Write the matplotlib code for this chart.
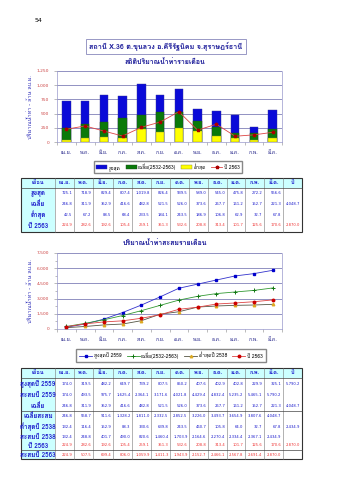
import matplotlib
matplotlib.use('Agg')
import matplotlib.pyplot as plt
import numpy as np
from matplotlib import font_manager
from matplotlib.ft2font import FT2Font
from matplotlib.patches import Rectangle


def find_thai_font():
    for f in font_manager.fontManager.ttflist:
        try:
            if 0x0E01 in FT2Font(f.fname).get_charmap():
                return f.name
        except Exception:
            pass
    return 'DejaVu Sans'


thai = find_thai_font()
plt.rcParams['font.family'] = [thai, 'DejaVu Sans']

months = ['เม.ย.', 'พ.ค.', 'มิ.ย.', 'ก.ค.', 'ส.ค.', 'ก.ย.', 'ต.ค.', 'พ.ย.', 'ธ.ค.', 'ม.ค.', 'ก.พ.', 'มี.ค.']

# monthly statistics (million m3)
max_flow = [725.1, 718.9, 829.4, 807.4, 1019.8, 826.4, 939.5, 589.0, 545.0, 475.8, 272.2, 556.6]
mean_flow = [246.8, 311.9, 352.9, 416.6, 482.8, 521.5, 526.0, 373.6, 267.7, 161.2, 152.7, 221.3]
min_flow = [42.5, 67.2, 88.5, 68.4, 233.5, 184.1, 243.5, 186.9, 106.8, 62.9, 32.7, 67.8]
y2563 = [224.9, 282.6, 192.6, 105.4, 259.1, 351.3, 532.6, 208.8, 313.4, 101.7, 125.6, 170.6]

max2559 = [174.0, 319.5, 482.2, 649.7, 739.2, 807.5, 850.2, 407.6, 402.9, 402.8, 229.9, 325.1]
min2538 = [132.4, 116.4, 152.9, 88.3, 330.6, 639.8, 243.5, 460.7, 105.8, 64.0, 32.7, 67.8]

# cumulative rows
cum_max2559 = [174.0, 493.5, 975.7, 1625.4, 2364.1, 3171.6, 4021.8, 4429.4, 4832.4, 5235.2, 5465.1, 5790.2]
cum_mean = [246.8, 558.7, 911.6, 1328.2, 1811.0, 2332.5, 2852.5, 3226.0, 3493.7, 3654.9, 3807.6, 4048.7]
cum_min2538 = [132.4, 248.8, 401.7, 490.0, 820.6, 1460.4, 1703.9, 2164.6, 2270.4, 2334.4, 2367.1, 2434.9]
cum_2563 = [224.9, 507.5, 699.4, 806.0, 1059.9, 1411.3, 1943.9, 2152.7, 2466.1, 2567.8, 2691.4, 2870.0]

total_mean = 4048.7
total_2563 = 2870.0
total_max2559 = 5790.2
total_min2538 = 2434.9

W, H = 339, 480
BLUE_TXT = '#1a1acc'
RED_TXT = '#ee3333'
CYAN = '#ccffff'

fig = plt.figure(figsize=(W / 100, H / 100), dpi=100)
fig.patch.set_facecolor('white')


def fax(x0, y0, x1, y1):
    return fig.add_axes([x0 / W, 1 - y1 / H, (x1 - x0) / W, (y1 - y0) / H])


x = np.arange(len(months))


def style_axis(ax, ymax, step):
    ax.set_xlim(-0.5, len(months) - 0.5)
    ax.set_ylim(0, ymax)
    ticks = np.arange(0, ymax + 1, step)
    ax.set_yticks(ticks)
    ax.set_yticklabels([f'{t:,.0f}' for t in ticks], fontsize=3.2, color='#cc4444',
                       family='DejaVu Sans')
    ax.set_xticks(x)
    ax.set_xticklabels(months, fontsize=3.8, color='#222288')
    ax.set_xticks(np.arange(-0.5, len(months), 1), minor=True)
    ax.tick_params(axis='x', which='major', length=0, pad=6)
    ax.tick_params(axis='x', which='minor', length=2.5, width=0.4, color='#888888')
    ax.tick_params(axis='y', length=2, width=0.4, color='#888888', pad=3.5)
    ax.grid(axis='y', color='#6666aa', linewidth=0.5)
    ax.set_axisbelow(True)
    for s in ['left', 'bottom', 'right']:
        ax.spines[s].set_color('#9999cc')
        ax.spines[s].set_linewidth(0.5)
    ax.spines['top'].set_visible(False)


# ---- header ----
fig.text(35 / W, 1 - 20 / H, '54', fontsize=4.5, ha='left', va='center', family='DejaVu Sans')
fig.text(166 / W, 1 - 46.5 / H, 'สถานี X.36 ต.ขุนลวง อ.คีรีรัฐนิคม จ.สุราษฎร์ธานี',
         fontsize=5.2, color='#1a1a99', fontweight='bold', ha='center', va='center',
         bbox=dict(boxstyle='square,pad=0.45', fc='white', ec='#8888bb', lw=0.6))

# ---- chart 1 : monthly ----
fig.text(165 / W, 1 - 62 / H, 'สถิติปริมาณน้ำท่ารายเดือน', fontsize=5, color='#1a1a99',
         fontweight='bold', ha='center', va='center')
ax1 = fax(57, 71, 282, 142)
style_axis(ax1, 1250, 250)
bw = 0.45
b1 = ax1.bar(x, max_flow, bw, color='#0a0ad8', edgecolor='#333399', linewidth=0.3, zorder=2, label='สูงสุด')
b2 = ax1.bar(x, mean_flow, bw, color='#0a7a0a', edgecolor='#224422', linewidth=0.3, zorder=3, label='เฉลี่ย(2532-2563)')
b3 = ax1.bar(x, min_flow, bw, color='#ffff00', edgecolor='#888833', linewidth=0.3, zorder=4, label='ต่ำสุด')
l1, = ax1.plot(x, y2563, color='#dd4444', linewidth=0.6, marker='*', markersize=2.5,
               markerfacecolor='#aa0000', markeredgecolor='#aa0000', zorder=5, label='ปี 2563')
fig.text(30 / W, 1 - 107 / H, 'ปริมาณน้ำท่า - ล้าน ลบ.ม.', fontsize=4, color='#3333bb',
         rotation=90, ha='center', va='center')
fig.legend(handles=[b1, b2, b3, l1], loc='center', bbox_to_anchor=(168 / W, 1 - 167 / H),
           ncol=4, fontsize=3.6, frameon=True, fancybox=False, edgecolor='#888888',
           handlelength=2.2, handleheight=0.8, columnspacing=1.0, handletextpad=0.3,
           borderpad=0.5, framealpha=1)

# ---- chart 2 : cumulative ----
fig.text(165 / W, 1 - 243 / H, 'ปริมาณน้ำท่าสะสมรายเดือน', fontsize=5, color='#1a1a99',
         fontweight='bold', ha='center', va='center')
ax2 = fax(57, 253, 282, 329)
style_axis(ax2, 7500, 1500)
ax2.set_yticks(np.arange(0, 7501, 750), minor=True)
ax2.tick_params(axis='y', which='minor', length=1.5, width=0.4, color='#888888')
m1, = ax2.plot(x, cum_max2559, color='#3333cc', linewidth=0.6, marker='s', markersize=1.8,
               markerfacecolor='#0000cc', markeredgecolor='#0000cc', label='สูงสุดปี 2559')
m2, = ax2.plot(x, cum_mean, color='#339933', linewidth=0.6, marker='+', markersize=2.5,
               markeredgecolor='#117711', markeredgewidth=0.7, label='เฉลี่ย(2532-2563)')
m3, = ax2.plot(x, cum_min2538, color='#555544', linewidth=0.6, marker='^', markersize=1.8,
               markerfacecolor='#ffcc33', markeredgecolor='#ddaa22', label='ต่ำสุดปี 2538')
m4, = ax2.plot(x, cum_2563, color='#dd4444', linewidth=0.6, marker='o', markersize=1.8,
               markerfacecolor='#cc0000', markeredgecolor='#cc0000', label='ปี 2563')
fig.text(30 / W, 1 - 291 / H, 'ปริมาณน้ำท่า - ล้าน ลบ.ม.', fontsize=4, color='#3333bb',
         rotation=90, ha='center', va='center')
fig.legend(handles=[m1, m2, m3, m4], loc='center', bbox_to_anchor=(171 / W, 1 - 355.5 / H),
           ncol=4, fontsize=3.6, frameon=True, fancybox=False, edgecolor='#888888',
           handlelength=2.6, columnspacing=1.0, handletextpad=0.3, borderpad=0.6,
           framealpha=1)

# ---- tables ----
tab = fig.add_axes([0, 0, 1, 1], zorder=10)
tab.set_xlim(0, W)
tab.set_ylim(H, 0)
tab.axis('off')

col_edges = [21, 55, 74, 93, 113, 132, 151, 170, 189, 208, 227, 245, 264, 283, 302]
col_mid = [(a + b) / 2 for a, b in zip(col_edges[:-1], col_edges[1:])]
headers = ['เดือน'] + months + ['ปี']


def fmt(v):
    return f'{v:,.1f}'


def draw_table(top, head_h, bottom, seps):
    x0, x1 = col_edges[0], col_edges[-1]
    tab.add_patch(Rectangle((x0, top), x1 - x0, head_h, fc=CYAN, ec='none'))
    tab.add_patch(Rectangle((x0, top), col_edges[1] - x0, bottom - top, fc=CYAN, ec='none'))
    for cx in col_edges[1:-1]:
        tab.plot([cx, cx], [top, bottom], color='#777777', lw=0.4)
    for yy in [top + head_h] + seps:
        tab.plot([x0, x1], [yy, yy], color='#444444', lw=0.5)
    tab.add_patch(Rectangle((x0, top), x1 - x0, bottom - top, fc='none', ec='#333333', lw=0.8))
    for cx, h in zip(col_mid, headers):
        tab.text(cx, top + head_h / 2, h, fontsize=4, color=BLUE_TXT, fontweight='bold',
                 ha='center', va='center')


def draw_row(y, label, values, color, total=None):
    tab.text(col_mid[0], y, label, fontsize=4.6, color=BLUE_TXT, fontweight='bold',
             ha='center', va='center')
    for i, v in enumerate(values):
        tab.text(col_edges[i + 2] - 1.5, y, fmt(v), fontsize=2.7, color=color,
                 ha='right', va='center', family='DejaVu Sans')
    if total is not None:
        tab.text(col_edges[-1] - 1.5, y, fmt(total), fontsize=2.7,
                 color=color, ha='right', va='center', family='DejaVu Sans')


# table 1
draw_table(178, 9.5, 232, [])
draw_row(193, 'สูงสุด', max_flow, BLUE_TXT)
draw_row(204, 'เฉลี่ย', mean_flow, BLUE_TXT, total_mean)
draw_row(215, 'ต่ำสุด', min_flow, BLUE_TXT)
draw_row(225.5, 'ปี 2563', y2563, RED_TXT, total_2563)

# table 2
draw_table(368, 10, 459, [411, 450])
draw_row(384, 'สูงสุดปี 2559', max2559, BLUE_TXT, total_max2559)
draw_row(395, 'สะสมปี 2559', cum_max2559, BLUE_TXT)
draw_row(406, 'เฉลี่ย', mean_flow, BLUE_TXT, total_mean)
draw_row(416, 'เฉลี่ยสะสม', cum_mean, BLUE_TXT)
draw_row(426.5, 'ต่ำสุดปี 2538', min2538, BLUE_TXT, total_min2538)
draw_row(436.5, 'สะสมปี 2538', cum_min2538, BLUE_TXT)
draw_row(445.5, 'ปี 2563', y2563, RED_TXT, total_2563)
draw_row(454.5, 'สะสมปี 2563', cum_2563, RED_TXT)

fig.savefig('out.png', dpi=100)
